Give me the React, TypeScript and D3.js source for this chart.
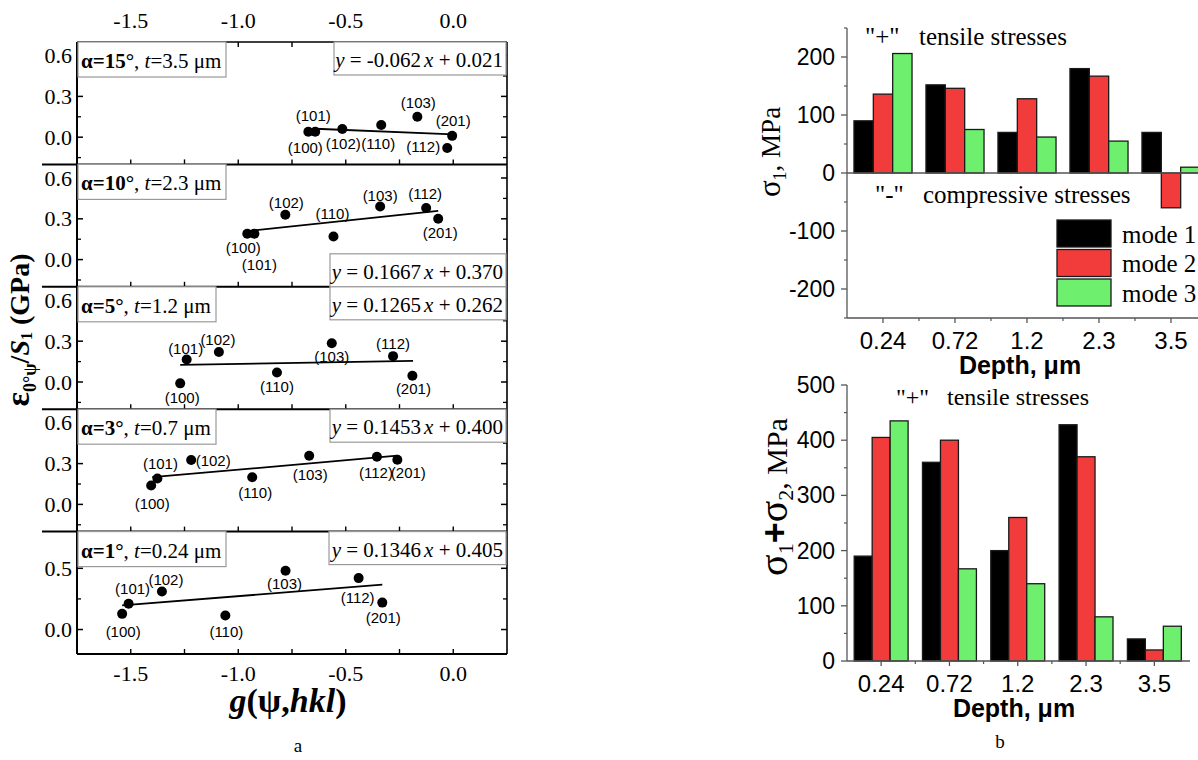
import * as d3 from "d3";
import React from "react";

const SERIF = "'Liberation Serif', 'Times New Roman', serif";
const SANS = "'Liberation Sans', Arial, sans-serif";

// ---------- panel a: residual strain vs g(psi,hkl) ----------
const hklNames = ["(100)", "(101)", "(102)", "(110)", "(103)", "(112)", "(201)"];
const alphaDeg = ["15", "10", "5", "3", "1"];
const depthT = ["3.5", "2.3", "1.2", "0.7", "0.24"];
const fitSlope = ["-0.062", "0.1667", "0.1265", "0.1453", "0.1346"];
const fitIntercept = ["0.021", "0.370", "0.262", "0.400", "0.405"];

// g(psi,hkl) per panel, same order as hklNames
const gValues = [
  [-0.674, -0.642, -0.516, -0.335, -0.167, -0.028, -0.005],
  [-0.958, -0.925, -0.781, -0.557, -0.34, -0.126, -0.07],
  [-1.27, -1.24, -1.09, -0.82, -0.565, -0.28, -0.19],
  [-1.405, -1.376, -1.219, -0.935, -0.67, -0.355, -0.26],
  [-1.54, -1.51, -1.355, -1.06, -0.78, -0.44, -0.33],
];
const strainValues = [
  [0.04, 0.04, 0.06, 0.09, 0.15, -0.08, 0.01],
  [0.19, 0.19, 0.33, 0.17, 0.39, 0.38, 0.3],
  [-0.01, 0.166, 0.22, 0.07, 0.285, 0.19, 0.046],
  [0.139, 0.19, 0.326, 0.2, 0.358, 0.35, 0.328],
  [0.128, 0.21, 0.31, 0.115, 0.48, 0.42, 0.22],
];
// fitted segments as drawn: [g0, y0, g1, y1]
const fitSegments = [
  [-0.64, 0.062, 0.0, 0.021],
  [-0.958, 0.21, -0.07, 0.358],
  [-1.27, 0.126, -0.187, 0.155],
  [-1.4, 0.2, -0.26, 0.358],
  [-1.54, 0.197, -0.33, 0.366],
];
const gTicks = [-1.5, -1.0, -0.5, 0.0];

// label placement (px offsets from the point)
const labelOffsets = [
  [[-3, 16], [-2, -16], [1, 14], [-3, 19], [1, -14], [-24, -2], [1, -15]],
  [[-4, 14], [5, 31], [1, -12], [-1, -23], [0, -11], [-1, -14], [2, 14]],
  [[2, 14], [-1, -11], [-1, -13], [0, 14], [0, 13], [0, -13], [1, 13]],
  [[1, 18], [3, -15], [22, 0], [3, 15], [1, 19], [-1, 16], [11, 13]],
  [[1, 18], [4, -15], [4, -12], [1, 16], [-1, 13], [-1, 19], [1, 15]],
];
// box layout per panel: [leftBoxRight, rightBoxLeft, rightBoxAtBottom]
const boxLayout = [
  [226, 334, 0],
  [226, 330, 1],
  [216, 330, 0],
  [216, 330, 0],
  [226, 329, 0],
];

// ---------- panel b: stresses vs depth ----------
const depthLabels = ["0.24", "0.72", "1.2", "2.3", "3.5"];
const modeNames = ["mode 1", "mode 2", "mode 3"];
const modeColors = ["#000000", "#f23c3c", "#6ef06e"];
const sigma1Mode1 = [90, 152, 70, 180, 70];
const sigma1Mode2 = [136, 146, 128, 167, -60];
const sigma1Mode3 = [206, 75, 62, 55, 10];
const sumMode1 = [190, 360, 200, 428, 40];
const sumMode2 = [405, 400, 260, 370, 20];
const sumMode3 = [435, 167, 140, 80, 63];
const sigma1Ticks = [-200, -100, 0, 100, 200];
const sumTicks = [0, 100, 200, 300, 400, 500];

const aLeft = 77;
const aRight = 507;
const aTop = 42;
const panelH = 122.4;
const xG = d3.scaleLinear().domain([-1.75, 0.25]).range([aLeft, aRight]);
const gMinor = d3.range(-1.75, 0.26, 0.25);

function StrainPanel({ i }: { i: number }) {
  const top = aTop + i * panelH;
  const bottom = top + panelH;
  const last = i === 4;
  const y = d3.scaleLinear().domain(last ? [-0.2, 0.8] : [-0.2, 0.7]).range([bottom, top]);
  const major = last ? [0, 0.5] : [0, 0.3, 0.6];
  const minor = last ? [-0.25, 0.25, 0.75] : [-0.15, 0.15, 0.45];
  const seg = fitSegments[i];
  const [lbRight, rbLeft, rbBottom] = boxLayout[i];
  const rbY = rbBottom ? bottom - 33 : top;
  return (
    <g>
      {/* inner ticks */}
      {major.map((v) => (
        <g key={"M" + v}>
          <line x1={aLeft} x2={aLeft + 6} y1={y(v)} y2={y(v)} stroke="#000" strokeWidth={1.5} />
          <line x1={aRight} x2={aRight - 6} y1={y(v)} y2={y(v)} stroke="#000" strokeWidth={1.5} />
          <text x={72} y={y(v)} textAnchor="end" dominantBaseline="central" fontFamily={SERIF} fontSize={22}>
            {d3.format(".1f")(v)}
          </text>
        </g>
      ))}
      {minor.filter((v) => y(v) > top + 1 && y(v) < bottom - 1).map((v) => (
        <g key={"m" + v}>
          <line x1={aLeft} x2={aLeft + 4} y1={y(v)} y2={y(v)} stroke="#000" strokeWidth={1.3} />
          <line x1={aRight} x2={aRight - 4} y1={y(v)} y2={y(v)} stroke="#000" strokeWidth={1.3} />
        </g>
      ))}
      {gMinor.filter((v) => v > -1.74 && v < 0.24).map((v) => (
        <line key={"b" + v} x1={xG(v)} x2={xG(v)} y1={bottom} y2={bottom - 5} stroke="#000" strokeWidth={1.4} />
      ))}
      {i === 0 &&
        gMinor.filter((v) => v > -1.74 && v < 0.24).map((v) => (
          <line key={"t" + v} x1={xG(v)} x2={xG(v)} y1={top} y2={top + 5} stroke="#000" strokeWidth={1.4} />
        ))}
      {/* fit line */}
      <line x1={xG(seg[0])} y1={y(seg[1])} x2={xG(seg[2])} y2={y(seg[3])} stroke="#000" strokeWidth={1.8} />
      {gValues[i].map((g, j) => (
        <g key={j}>
          <circle cx={xG(g)} cy={y(strainValues[i][j])} r={5} fill="#000" />
          <text
            x={xG(g) + labelOffsets[i][j][0]}
            y={y(strainValues[i][j]) + labelOffsets[i][j][1]}
            textAnchor="middle"
            dominantBaseline="central"
            fontFamily={SANS}
            fontSize={15}
          >
            {hklNames[j]}
          </text>
        </g>
      ))}
      {/* annotation boxes */}
      <rect x={aLeft + 1} y={top} width={lbRight - aLeft - 1} height={35} fill="#fff" stroke="#9a9a9a" strokeWidth={1.2} />
      <text x={81} y={top + 26} fontFamily={SERIF} fontSize={21}>
        <tspan fontWeight="bold">α={alphaDeg[i]}°</tspan>
        <tspan>, </tspan>
        <tspan fontStyle="italic">t</tspan>
        <tspan>={depthT[i]} μm</tspan>
      </text>
      <rect x={rbLeft} y={rbY} width={aRight - 1 - rbLeft} height={33} fill="#fff" stroke="#9a9a9a" strokeWidth={1.2} />
      <text x={503} y={rbY + 25} textAnchor="end" fontFamily={SERIF} fontSize={21}>
        <tspan fontStyle="italic">y</tspan>
        <tspan> = {fitSlope[i]}</tspan>
        <tspan fontStyle="italic" dx={3}>x</tspan>
        <tspan> + {fitIntercept[i]}</tspan>
      </text>
    </g>
  );
}

function StrainChart() {
  const bottom = aTop + 5 * panelH;
  return (
    <g>
      {[0, 1, 2, 3, 4].map((i) => (
        <line
          key={"sep" + i}
          x1={i === 0 ? aLeft : 42}
          x2={aRight}
          y1={aTop + i * panelH}
          y2={aTop + i * panelH}
          stroke="#000"
          strokeWidth={i === 0 ? 1.6 : 2}
        />
      ))}
      <line x1={aLeft} x2={aRight} y1={bottom} y2={bottom} stroke="#000" strokeWidth={2} />
      <line x1={aLeft} x2={aLeft} y1={aTop} y2={bottom} stroke="#000" strokeWidth={2} />
      <line x1={aRight} x2={aRight} y1={aTop} y2={bottom} stroke="#000" strokeWidth={1.6} />
      {[0, 1, 2, 3, 4].map((i) => (
        <StrainPanel key={i} i={i} />
      ))}
      {gTicks.map((v) => (
        <g key={v}>
          <text x={xG(v)} y={20} textAnchor="middle" dominantBaseline="central" fontFamily={SERIF} fontSize={22}>
            {d3.format(".1f")(v).replace("−", "-")}
          </text>
          <text x={xG(v)} y={673} textAnchor="middle" dominantBaseline="central" fontFamily={SERIF} fontSize={22}>
            {d3.format(".1f")(v).replace("−", "-")}
          </text>
        </g>
      ))}
      <text x={288} y={712} textAnchor="middle" fontFamily={SERIF} fontSize={34} fontWeight="bold">
        <tspan fontStyle="italic">g</tspan>
        <tspan>(ψ,</tspan>
        <tspan fontStyle="italic">hkl</tspan>
        <tspan>)</tspan>
      </text>
      <text transform="translate(29,330) rotate(-90)" textAnchor="middle" fontFamily={SERIF} fontSize={28} fontWeight="bold">
        <tspan fontSize={34}>ε</tspan>
        <tspan fontSize={18} dy={7}>0°ψ</tspan>
        <tspan dy={-7}>/</tspan>
        <tspan fontStyle="italic">S</tspan>
        <tspan fontSize={16} dy={3}>1</tspan>
        <tspan dy={-3}> (GPa)</tspan>
      </text>
      <text x={298} y={752} textAnchor="middle" fontFamily={SERIF} fontSize={19}>
        a
      </text>
    </g>
  );
}

type BarProps = {
  series: number[][];
  xRange: [number, number];
  yDomain: [number, number];
  yRange: [number, number];
  ticks: number[];
  padOuter: number;
  clipRight: number;
};

function BarChart({ series, xRange, yDomain, yRange, ticks, padOuter, clipRight }: BarProps) {
  const x0 = d3.scaleBand<string>().domain(depthLabels).range(xRange).paddingInner(0).paddingOuter(0);
  const x1 = d3.scaleBand<string>().domain(modeNames).range([0, x0.bandwidth()]).paddingInner(0).paddingOuter(padOuter);
  const y = d3.scaleLinear().domain(yDomain).range(yRange);
  const minor = d3.range(yDomain[0], yDomain[1] + 1, 50).filter((v) => !ticks.includes(v));
  const left = xRange[0];
  const baseY = yRange[0];
  const between = depthLabels.slice(0, -1).map((d) => (x0(d) as number) + x0.bandwidth());
  return (
    <g>
      {series.map((vals, s) =>
        vals.map((v, k) => (
          <rect
            key={s + "-" + k}
            x={(x0(depthLabels[k]) as number) + (x1(modeNames[s]) as number)}
            y={y(Math.max(0, v))}
            width={x1.bandwidth()}
            height={Math.abs(y(v) - y(0))}
            fill={modeColors[s]}
            stroke="#1a1a1a"
            strokeWidth={1.3}
          />
        ))
      )}
      {yDomain[0] < 0 && <line x1={left} x2={clipRight} y1={y(0)} y2={y(0)} stroke="#555" strokeWidth={1.3} />}
      <line x1={left} x2={left} y1={yRange[1]} y2={baseY} stroke="#555" strokeWidth={1.3} />
      <line x1={left} x2={clipRight} y1={baseY} y2={baseY} stroke="#555" strokeWidth={1.3} />
      {ticks.map((v) => (
        <g key={v}>
          <line x1={left} x2={left - 6} y1={y(v)} y2={y(v)} stroke="#555" strokeWidth={1.3} />
          <text x={835} y={y(v)} textAnchor="end" dominantBaseline="central" fontFamily={SANS} fontSize={23}>
            {String(v).replace("−", "-")}
          </text>
        </g>
      ))}
      {minor.map((v) => (
        <line key={"m" + v} x1={left} x2={left - 3} y1={y(v)} y2={y(v)} stroke="#555" strokeWidth={1.2} />
      ))}
      {depthLabels.map((d) => {
        const cx = (x0(d) as number) + x0.bandwidth() / 2;
        return (
          <g key={d}>
            <line x1={cx} x2={cx} y1={baseY} y2={baseY + 5} stroke="#555" strokeWidth={1.3} />
            <text x={cx} y={baseY + 22} textAnchor="middle" dominantBaseline="central" fontFamily={SANS} fontSize={24}>
              {d}
            </text>
          </g>
        );
      })}
      {between.map((bx) => (
        <line key={"bt" + bx} x1={bx} x2={bx} y1={baseY} y2={baseY + 3} stroke="#555" strokeWidth={1.2} />
      ))}
    </g>
  );
}

export default function App() {
  return (
    <svg
      width={1198}
      height={760}
      viewBox="0 0 1198 760"
      style={{ position: "absolute", left: 0, top: 0, background: "#fff" }}
    >
      <rect width={1198} height={760} fill="#fff" />
      <StrainChart />

      {/* b, top: sigma1 */}
      <BarChart
        series={[sigma1Mode1, sigma1Mode2, sigma1Mode3]}
        xRange={[847, 1207]}
        yDomain={[-250, 250]}
        yRange={[318, 28]}
        ticks={sigma1Ticks}
        padOuter={0.36}
        clipRight={1198}
      />
      <text x={865} y={45} fontFamily={SERIF} fontSize={25}>"+"</text>
      <text x={919} y={45} fontFamily={SERIF} fontSize={25}>tensile stresses</text>
      <text x={875} y={203} fontFamily={SERIF} fontSize={25}>"-"</text>
      <text x={923} y={203} fontFamily={SERIF} fontSize={25}>compressive stresses</text>
      {modeNames.map((m, k) => (
        <g key={m}>
          <rect x={1057} y={220 + k * 29.5} width={54} height={27} fill={modeColors[k]} stroke="#1a1a1a" strokeWidth={1.3} />
          <text x={1122} y={234 + k * 29.5} dominantBaseline="central" fontFamily={SERIF} fontSize={25}>
            {m}
          </text>
        </g>
      ))}
      <text x={1020} y={365} textAnchor="middle" dominantBaseline="central" fontFamily={SANS} fontSize={25} fontWeight="bold">
        Depth, μm
      </text>
      <text transform="translate(780,152) rotate(-90)" textAnchor="middle" fontFamily={SERIF} fontSize={27}>
        <tspan fontSize={31}>σ</tspan>
        <tspan fontSize={18} dy={6}>1</tspan>
        <tspan dy={-6}>, MPa</tspan>
      </text>

      {/* b, bottom: sigma1 + sigma2 */}
      <BarChart
        series={[sumMode1, sumMode2, sumMode3]}
        xRange={[847, 1188.5]}
        yDomain={[0, 500]}
        yRange={[661, 385]}
        ticks={sumTicks}
        padOuter={0.4}
        clipRight={1190}
      />
      <text x={896} y={405} fontFamily={SERIF} fontSize={24}>"+"</text>
      <text x={947} y={405} fontFamily={SERIF} fontSize={24}>tensile stresses</text>
      <text x={1014} y={708} textAnchor="middle" dominantBaseline="central" fontFamily={SANS} fontSize={25} fontWeight="bold">
        Depth, μm
      </text>
      <text transform="translate(787,497) rotate(-90)" textAnchor="middle" fontFamily={SERIF} fontSize={30}>
        <tspan fontSize={40}>σ</tspan>
        <tspan fontSize={22} dy={6}>1</tspan>
        <tspan dy={-6} fontFamily={SANS} fontWeight="bold" fontSize={36}>+</tspan>
        <tspan fontSize={40}>σ</tspan>
        <tspan fontSize={22} dy={6}>2</tspan>
        <tspan dy={-6}>, MPa</tspan>
      </text>
      <text x={1000} y={748} textAnchor="middle" fontFamily={SERIF} fontSize={19}>
        b
      </text>
    </svg>
  );
}
